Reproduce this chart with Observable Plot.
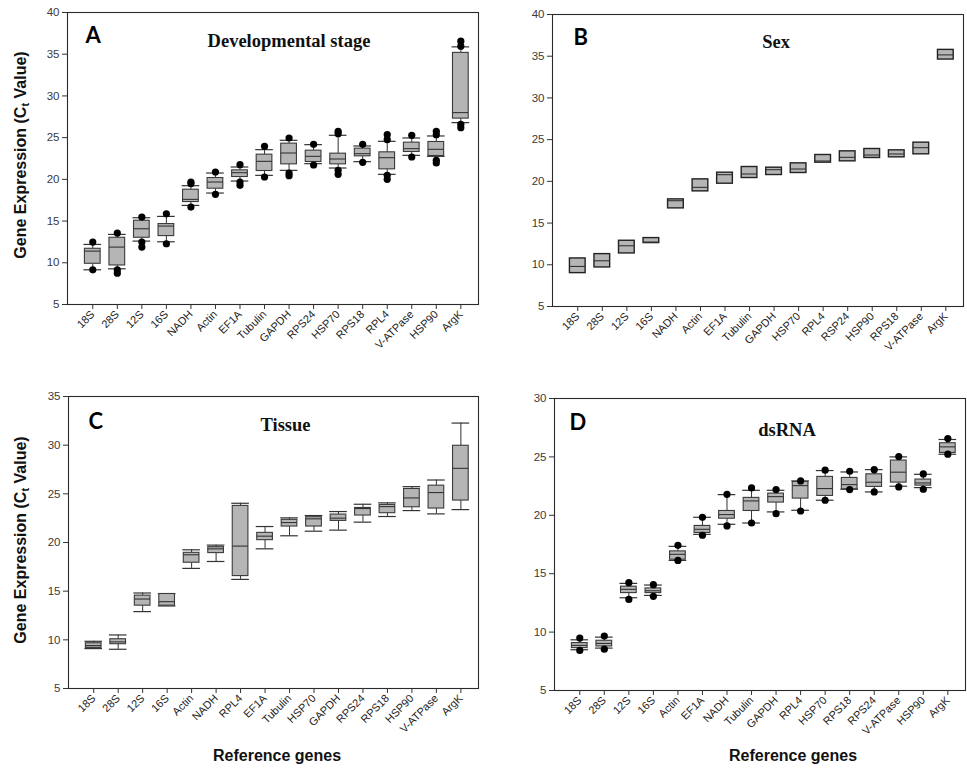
<!DOCTYPE html>
<html>
<head>
<meta charset="utf-8">
<script src="https://cdn.jsdelivr.net/npm/d3@7"></script>
<script src="https://cdn.jsdelivr.net/npm/@observablehq/plot@0.6"></script>
<style>
  html, body { margin: 0; padding: 0; background: #fff; }
  #wrap { position: relative; width: 967px; height: 769px; overflow: hidden; background: #fff; }
  .pnl { position: absolute; }
  .ytitle { position: absolute; font-family: "Liberation Sans Narrow", "Liberation Sans", Arial, sans-serif; font-weight: bold; font-size: 16px; color: #111; white-space: nowrap; transform: translate(-50%, -50%) rotate(-90deg); }
  .xtitle { position: absolute; font-family: "Liberation Sans", Arial, sans-serif; font-weight: bold; font-size: 16px; color: #111; white-space: nowrap; transform: translate(-50%, -50%); }
</style>
</head>
<body>
<div id="wrap"></div>
<script>
// ---------- Panel A: Developmental stage ----------
const genesA = ["18S","28S","12S","16S","NADH","Actin","EF1A","Tubulin","GAPDH","RPS24","HSP70","RPS18","RPL4","V-ATPase","HSP90","ArgK"];
const loA  = [9.16, 9.28, 12.6, 12.52, 16.88, 18.36, 19.8, 20.48, 21.08, 21.88, 21.36, 22.12, 20.6, 22.88, 22.76, 26.8];
const q1A  = [9.88, 9.68, 13.0, 13.2, 17.28, 18.88, 20.28, 21.0, 21.8, 22.08, 21.8, 22.76, 21.2, 23.28, 22.8, 27.28];
const medA = [11.4, 11.88, 14.08, 14.4, 17.6, 19.68, 20.8, 22.16, 23.16, 22.76, 22.44, 23.08, 22.6, 23.68, 23.6, 28.0];
const q3A  = [11.68, 13.0, 15.04, 14.64, 18.76, 20.16, 21.08, 22.96, 24.28, 23.44, 23.08, 23.68, 23.24, 24.4, 24.48, 35.16];
const hiA  = [12.2, 13.4, 15.4, 15.56, 19.24, 20.76, 21.48, 23.56, 24.68, 24.16, 25.28, 24.0, 24.56, 24.96, 25.2, 35.88];
const outA = [[12.48, 9.16], [13.56, 9.16, 8.76], [15.48, 12.48, 11.88], [15.88, 12.28], [19.68, 19.48, 16.68],
              [20.88, 18.2], [21.76, 19.68, 19.28], [23.96, 20.28], [24.96, 20.76, 20.44], [24.2, 21.72],
              [25.76, 25.48, 21.08, 20.6], [24.2, 22.04], [25.36, 24.76, 20.48, 20.0], [25.28, 22.68],
              [25.76, 25.36, 22.28, 21.96], [36.56, 35.96, 26.6, 26.2]];

// ---------- Panel B: Sex ----------
const genesB = ["18S","28S","12S","16S","NADH","Actin","EF1A","Tubulin","GAPDH","HSP70","RPL4","RSP24","HSP90","RPS18","V-ATPase","ArgK"];
const q1B  = [9.0, 9.68, 11.36, 12.6, 16.76, 18.8, 19.72, 20.4, 20.76, 21.0, 22.24, 22.4, 22.8, 22.88, 23.24, 34.6];
const medB = [9.8, 10.48, 12.28, 12.72, 17.68, 19.28, 20.8, 20.88, 21.4, 21.48, 22.44, 22.88, 23.16, 23.28, 24.04, 35.16];
const q3B  = [10.76, 11.28, 12.88, 13.2, 17.84, 20.24, 21.04, 21.72, 21.64, 22.16, 23.16, 23.6, 23.88, 23.72, 24.64, 35.76];

// ---------- Panel C: Tissue ----------
const genesC = ["18S","28S","12S","16S","Actin","NADH","RPL4","EF1A","Tubulin","HSP70","GAPDH","RPS24","RPS18","HSP90","V-ATPase","ArgK"];
const loC  = [9.1, 9.03, 12.9, 13.48, 17.34, 18.05, 16.21, 19.35, 20.69, 21.16, 21.27, 22.09, 22.67, 23.28, 22.94, 23.38];
const q1C  = [9.17, 9.55, 13.51, 13.51, 17.92, 18.91, 16.55, 20.24, 21.64, 21.64, 22.22, 22.77, 23.01, 23.62, 23.49, 24.31];
const medC = [9.41, 9.79, 14.19, 13.92, 18.74, 19.35, 19.63, 20.65, 22.05, 22.43, 22.5, 23.49, 23.69, 24.58, 25.13, 27.62];
const q3C  = [9.65, 10.06, 14.54, 14.71, 18.94, 19.52, 23.76, 20.99, 22.33, 22.6, 22.87, 23.55, 23.86, 25.5, 25.84, 29.94];
const hiC  = [9.85, 10.5, 14.81, 14.74, 19.25, 19.73, 24.03, 21.64, 22.53, 22.77, 23.18, 23.93, 24.07, 25.74, 26.42, 32.27];

// ---------- Panel D: dsRNA ----------
const genesD = ["18S","28S","12S","16S","Actin","EF1A","NADH","Tubulin","GAPDH","RPL4","HSP70","RPS18","RPS24","V-ATPase","HSP90","ArgK"];
const loD  = [8.49, 8.63, 12.94, 13.14, 16.14, 18.37, 19.23, 19.34, 20.29, 20.43, 21.29, 22.23, 22.0, 22.49, 22.37, 25.23];
const q1D  = [8.63, 8.77, 13.34, 13.34, 16.2, 18.49, 19.71, 20.37, 21.09, 21.43, 21.66, 22.23, 22.43, 22.8, 22.54, 25.34];
const medD = [8.86, 9.03, 13.66, 13.54, 16.66, 18.8, 20.06, 21.23, 21.6, 22.54, 22.29, 22.63, 22.83, 23.69, 22.77, 25.86];
const q3D  = [9.06, 9.26, 13.89, 13.74, 16.91, 19.09, 20.37, 21.49, 21.86, 22.86, 23.29, 23.2, 23.51, 24.69, 23.06, 26.17];
const hiD  = [9.34, 9.57, 14.17, 14.03, 17.34, 19.83, 21.77, 22.14, 22.14, 22.94, 23.83, 23.71, 23.91, 25.0, 23.51, 26.49];
const outD = [[9.49, 8.43], [9.66, 8.54], [14.23, 12.8], [14.06, 13.06], [17.43, 16.14], [19.83, 18.29], [21.8, 19.09],
              [22.34, 19.34], [22.2, 20.14], [22.94, 20.37], [23.86, 21.29], [23.77, 22.2], [23.91, 22.0],
              [25.03, 22.43], [23.54, 22.23], [26.57, 25.23]];

const yTicksA = [5, 10, 15, 20, 25, 30, 35, 40];
const yTicksB = [5, 10, 15, 20, 25, 30, 35, 40];
const yTicksC = [5, 10, 15, 20, 25, 30, 35];
const yTicksD = [5, 10, 15, 20, 25, 30];

const BOX_FILL = "#b5b5b5";
const wrap = document.getElementById("wrap");

function panel(cfg) {
  const rows = cfg.genes.map((g, i) => ({
    i, g,
    lo: cfg.lo ? cfg.lo[i] : null, q1: cfg.q1[i], med: cfg.med[i], q3: cfg.q3[i],
    hi: cfg.hi ? cfg.hi[i] : null
  }));
  const outs = cfg.out ? cfg.out.flatMap((arr, i) => arr.map(v => ({i, v}))) : [];
  const bw = 0.32, cw = 0.36;
  const marks = [];
  if (cfg.lo) {
    marks.push(
      Plot.ruleX(rows, {x: "i", y1: "lo", y2: "q1", stroke: "#333", strokeWidth: 1}),
      Plot.ruleX(rows, {x: "i", y1: "q3", y2: "hi", stroke: "#333", strokeWidth: 1}),
      Plot.ruleY(rows, {y: "lo", x1: d => d.i - cw, x2: d => d.i + cw, stroke: "#333", strokeWidth: 1.2}),
      Plot.ruleY(rows, {y: "hi", x1: d => d.i - cw, x2: d => d.i + cw, stroke: "#333", strokeWidth: 1.2})
    );
  }
  marks.push(
    Plot.rect(rows, {x1: d => d.i - bw, x2: d => d.i + bw, y1: "q1", y2: "q3", fill: BOX_FILL, stroke: cfg.boxStroke || "#3a3a3a", strokeWidth: cfg.boxStrokeWidth || 1.1}),
    Plot.ruleY(rows, {y: "med", x1: d => d.i - bw, x2: d => d.i + bw, stroke: "#333", strokeWidth: 1.1})
  );
  if (outs.length) marks.push(Plot.dot(outs, {x: "i", y: "v", r: 3.6, fill: "#000", stroke: "none"}));
  marks.push(
    Plot.frame({stroke: "#2a2a2a", strokeWidth: 1.1}),
    Plot.axisY({ticks: cfg.yTicks, tickSize: 5, tickPadding: 3, fontSize: 11.5, label: null, stroke: "#333", fill: "#3a3a3a"}),
    Plot.axisX({ticks: d3.range(cfg.genes.length), tickFormat: i => cfg.genes[i], tickRotate: -45, tickSize: 5, tickPadding: 3, fontSize: 11, label: null, stroke: "#333", fill: "#222"}),
    Plot.text([cfg.letter], {frameAnchor: "top-left", dx: cfg.ldx, dy: cfg.ldy, lineAnchor: "bottom", textAnchor: "start", fontSize: 22, fontWeight: "bold", fontFamily: "Lato, 'Open Sans', sans-serif", fill: "#000"}),
    Plot.text([cfg.title], {frameAnchor: "top", dx: cfg.tdx, dy: cfg.tdy, lineAnchor: "bottom", textAnchor: "middle", fontSize: 18.5, fontWeight: "bold", fontFamily: "'Liberation Serif', 'Times New Roman', serif", fill: "#111"})
  );
  const p = Plot.plot({
    width: cfg.width, height: cfg.height,
    marginLeft: cfg.ml, marginRight: cfg.mr, marginTop: cfg.mt, marginBottom: cfg.mb,
    x: {type: "linear", domain: [-1.03, 15.72], axis: null},
    y: {domain: cfg.yDomain, axis: null},
    style: {fontFamily: "'Liberation Sans', Arial, sans-serif", fontSize: "11px", color: "#333", background: "transparent", overflow: "visible"},
    marks
  });
  const div = document.createElement("div");
  div.className = "pnl";
  div.style.left = cfg.left + "px";
  div.style.top = cfg.top + "px";
  div.appendChild(p);
  wrap.appendChild(div);
}

panel({genes: genesA, lo: loA, q1: q1A, med: medA, q3: q3A, hi: hiA, out: outA,
  yDomain: [5, 40], yTicks: yTicksA, letter: "A", title: "Developmental stage",
  left: 0, top: 0, width: 483, height: 380, ml: 67, mr: 5, mt: 12, mb: 76,
  ldx: 18, ldy: 30, tdx: 16, tdy: 34});

panel({genes: genesB, q1: q1B, med: medB, q3: q3B,
  yDomain: [5, 40], yTicks: yTicksB, letter: "B", title: "Sex",
  left: 483, top: 0, width: 484, height: 380, ml: 69, mr: 4, mt: 14, mb: 74,
  ldx: 21, ldy: 30, tdx: 18, tdy: 33, boxStroke: "#222", boxStrokeWidth: 1.4});

panel({genes: genesC, lo: loC, q1: q1C, med: medC, q3: q3C, hi: hiC,
  yDomain: [5, 35], yTicks: yTicksC, letter: "C", title: "Tissue",
  left: 0, top: 384, width: 483, height: 385, ml: 68, mr: 5, mt: 12, mb: 81,
  ldx: 20, ldy: 32, tdx: 12, tdy: 34});

panel({genes: genesD, lo: loD, q1: q1D, med: medD, q3: q3D, hi: hiD, out: outD,
  yDomain: [5, 30], yTicks: yTicksD, letter: "D", title: "dsRNA",
  left: 483, top: 384, width: 484, height: 385, ml: 71, mr: 2, mt: 14, mb: 79,
  ldx: 15, ldy: 31, tdx: 27, tdy: 37});

function addTitle(cls, text, x, y, html) {
  const d = document.createElement("div");
  d.className = cls;
  d.style.left = x + "px";
  d.style.top = y + "px";
  if (html) d.innerHTML = text; else d.textContent = text;
  wrap.appendChild(d);
}
const yTitle = "Gene Expression (C<sub style=\"font-size:11px;vertical-align:-3px\">t</sub> Value)";
addTitle("ytitle", yTitle, 21, 155, true);
addTitle("ytitle", yTitle, 21, 540, true);
addTitle("xtitle", "Reference genes", 277, 756);
addTitle("xtitle", "Reference genes", 793, 756);
</script>
</body>
</html>
